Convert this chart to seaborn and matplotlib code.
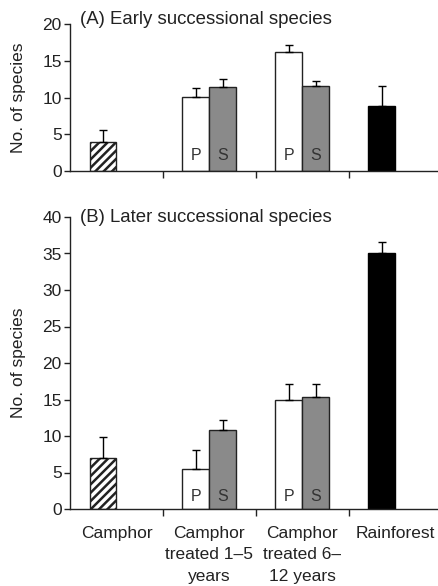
import numpy as np
import pandas as pd
import matplotlib
matplotlib.use("Agg")
import matplotlib.pyplot as plt
import seaborn as sns

sns.set_style("ticks")
plt.rcParams['font.family'] = ['Liberation Sans', 'DejaVu Sans']
plt.rcParams['hatch.linewidth'] = 1.8

# categories on the x axis
groups = ["Camphor", "Camphor\ntreated 1\u20135\nyears",
          "Camphor\ntreated 6\u2013\n12 years", "Rainforest"]

# one entry per bar: which group, which slot (P = primary, S = secondary)
bar_group = [groups[0], groups[1], groups[1], groups[2], groups[2], groups[3]]
bar_slot = ["P", "P", "S", "P", "S", "P"]

# (A) early successional species
early_mean = [4.0, 10.1, 11.4, 16.2, 11.5, 8.9]
early_se = [1.6, 1.2, 1.1, 1.0, 0.8, 2.6]

# (B) later successional species
later_mean = [7.0, 5.5, 10.8, 15.0, 15.4, 35.0]
later_se = [2.9, 2.6, 1.4, 2.1, 1.7, 1.6]

# per-bar look
bar_fill = ["white", "white", "#8a8a8a", "white", "#8a8a8a", "black"]
bar_hatch = ["////", "", "", "", "", ""]
bar_text = ["", "P", "S", "P", "S", ""]


def draw_panel(ax, means, ses, title, ymax, label_off, title_y):
    df = pd.DataFrame({"group": bar_group, "slot": bar_slot, "n": means})
    sns.barplot(data=df, x="group", y="n", hue="slot", order=groups,
                hue_order=["P", "S"], width=0.58, dodge=True, errorbar=None,
                legend=False, edgecolor="black", linewidth=1, ax=ax)

    patches = list(ax.patches)
    for i in range(len(means)):
        gx = groups.index(bar_group[i]) + (-0.145 if bar_slot[i] == "P" else 0.145)
        p = min(patches, key=lambda q: abs(q.get_x() + q.get_width() / 2 - gx))
        cx = p.get_x() + p.get_width() / 2
        p.set_facecolor(bar_fill[i])
        p.set_edgecolor("#222222" if bar_fill[i] != "black" else "black")
        p.set_hatch(bar_hatch[i])
        ax.errorbar(cx, means[i], yerr=[[0], [ses[i]]], fmt="none",
                    ecolor="black", elinewidth=1, capsize=2.6, capthick=1)
        if bar_text[i]:
            ax.annotate(bar_text[i], xy=(cx, 0), xytext=(0, label_off),
                        textcoords="offset points", ha="center", va="baseline",
                        fontsize=11.5, color="#333333")

    ax.set_xlim(-0.5, 3.47)
    ax.set_ylim(0, ymax)
    ax.set_yticks(np.arange(0, ymax + 1, 5))
    ax.set_xlabel("")
    ax.set_ylabel("No. of species", fontsize=12.5, color="#222222")
    ax.yaxis.set_label_coords(-0.118, 0.5)
    ax.tick_params(axis="y", length=4, width=1, labelsize=12.5, pad=2,
                   colors="#222222")
    ax.tick_params(axis="x", which="major", length=0, labelsize=12.5, pad=12,
                   colors="#222222")
    ax.set_xticks([0.5, 1.5, 2.5], minor=True)
    ax.tick_params(axis="x", which="minor", length=5, width=1, direction="out",
                   colors="#222222")
    for lab in ax.get_xticklabels():
        lab.set_linespacing(1.55)
    sns.despine(ax=ax)
    for s in ["left", "bottom"]:
        ax.spines[s].set_linewidth(1)
        ax.spines[s].set_color("#222222")
    ax.text(0.027, title_y, title, transform=ax.transAxes, ha="left",
            va="center", fontsize=13.4, color="#222222")


fig = plt.figure(figsize=(4.39, 5.86), dpi=100)
ax_a = fig.add_axes([70 / 439, 1 - 171 / 586, 369 / 439, 147 / 586])
ax_b = fig.add_axes([70 / 439, 1 - 509 / 586, 369 / 439, 292 / 586])

draw_panel(ax_a, early_mean, early_se, "(A) Early successional species", 20, 8, 1.03)
draw_panel(ax_b, later_mean, later_se, "(B) Later successional species", 40, 6, 1.0)
ax_a.set_xticklabels([])

fig.savefig("out.png", dpi=100, facecolor="white")
